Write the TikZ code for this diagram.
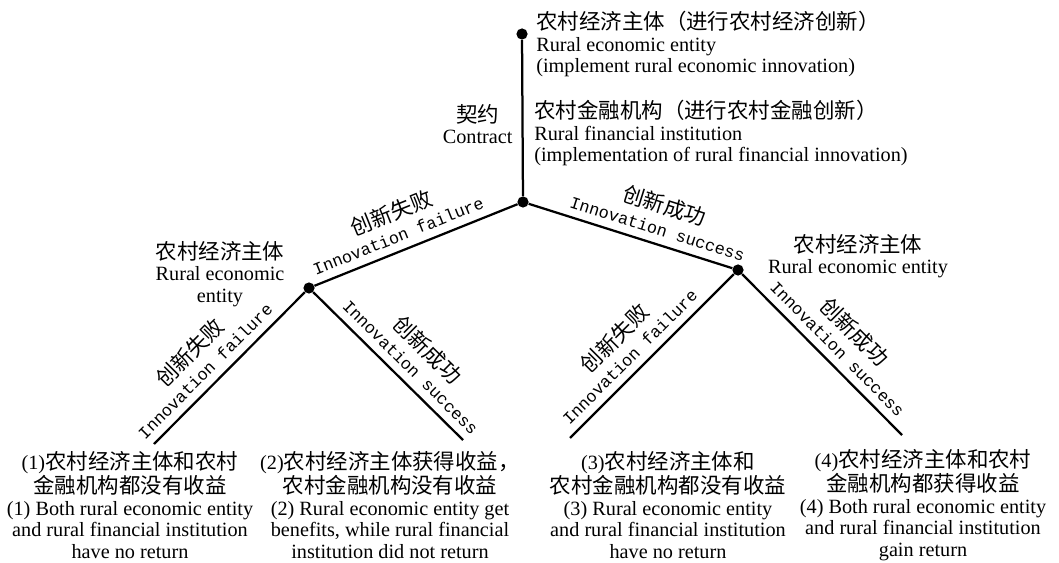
\documentclass[tikz,border=0pt]{standalone}
\usepackage{fontspec}
\setmainfont{Liberation Serif}
\setmonofont{Liberation Mono}
\newfontfamily\cjk[Scale=1.06]{Noto Sans CJK SC}
\newcommand{\zh}[1]{{\cjk #1}}
\begin{document}
\begin{tikzpicture}[font=\fontsize{14.4}{15.4}\selectfont,
  dot/.style={circle, fill=black, inner sep=0pt, minimum size=0.28cm},
  branch/.style={line width=1.6pt},
  entxt/.style={sloped, inner sep=0pt, above=5.5pt, font=\fontsize{12}{12}\selectfont\ttfamily},
  zhtxt/.style={sloped, inner sep=0pt, above=20pt, font=\fontsize{14.4}{15}\selectfont\cjk},
  blocktxt/.style={align=center, inner sep=0pt}]
\useasboundingbox (0,0) rectangle (26.475,14.05);

\node[dot] (top) at (13.05, 13.2) {};
\node[dot] (root) at (13.075, 9.0) {};
\node[dot] (lft) at (7.725, 6.85) {};
\node[dot] (rgt) at (18.45, 7.3) {};
\coordinate (ll) at (3.85, 2.95);
\coordinate (lr) at (11.575, 3.05);
\coordinate (rl) at (14.25, 3.1);
\coordinate (rr) at (22.55, 3.175);

\draw[branch] (root) -- (top);
\draw[branch] (lft) -- node[entxt, pos=.44] {Innovation failure} node[zhtxt, pos=.45] {创新失败} (root);
\draw[branch] (root) -- node[entxt, pos=.61] {Innovation success} node[zhtxt, pos=.61] {创新成功} (rgt);
\draw[branch] (ll) -- node[entxt, pos=.41] {Innovation failure} node[zhtxt, pos=.42] {创新失败} (lft);
\draw[branch] (lft) -- node[entxt, pos=.58] {Innovation success} node[zhtxt, pos=.58] {创新成功} (lr);
\draw[branch] (rl) -- node[entxt, pos=.43] {Innovation failure} node[zhtxt, pos=.44] {创新失败} (rgt);
\draw[branch] (rgt) -- node[entxt, pos=.53] {Innovation success} node[zhtxt, pos=.53] {创新成功} (rr);

\node[blocktxt, align=left, anchor=west] (ecoent) at (13.4, 12.95) {\zh{农村经济主体（进行农村经济创新）}\\Rural economic entity\\(implement rural economic innovation)};
\node[blocktxt, align=left, anchor=west] (fininst) at (13.35, 10.72) {\zh{农村金融机构（进行农村金融创新）}\\Rural financial institution\\(implementation of rural financial innovation)};
\node[blocktxt, anchor=east] (contract) at (12.82, 10.95) {\zh{契约}\\Contract};

\node[blocktxt] (lent) at (5.5, 7.2) {\zh{农村经济主体}\\Rural economic\\entity};
\node[blocktxt] (rent) at (21.45, 7.65) {\zh{农村经济主体}\\Rural economic entity};

\node[blocktxt] (res1) at (3.25, 1.42) {(1)\zh{农村经济主体和农村}\\\zh{金融机构都没有收益}\\(1) Both rural economic entity\\and rural financial institution\\have no return};
\node[blocktxt] (res2) at (9.75, 1.42) {(2)\zh{农村经济主体获得收益，}\\\zh{农村金融机构没有收益}\\(2) Rural economic entity get\\benefits, while rural financial\\institution did not return};
\node[blocktxt] (res3) at (16.7, 1.42) {(3)\zh{农村经济主体和}\\\zh{农村金融机构都没有收益}\\(3) Rural economic entity\\and rural financial institution\\have no return};
\node[blocktxt] (res4) at (23.075, 1.42) {(4)\zh{农村经济主体和农村}\\\zh{金融机构都获得收益}\\(4) Both rural economic entity\\and rural financial institution\\gain return};
\end{tikzpicture}
\end{document}
